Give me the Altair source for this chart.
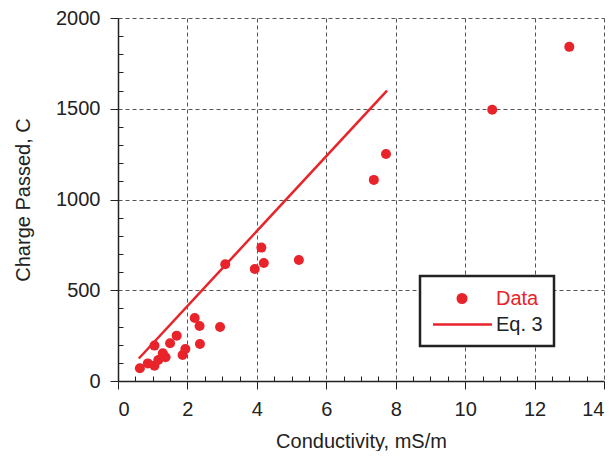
import altair as alt
import pandas as pd

# Measured data (Conductivity mS/m, Charge passed C)
cond = [0.63, 0.86, 1.05, 1.05, 1.16, 1.29, 1.37, 1.50, 1.69, 1.86, 1.94, 2.21,
        2.35, 2.36, 2.94, 3.09, 3.94, 4.13, 4.20, 5.21, 7.37, 7.72, 10.78, 13.0]
charge = [70, 97, 84, 195, 116, 153, 131, 208, 250, 143, 176, 347,
          303, 204, 298, 643, 617, 735, 650, 667, 1108, 1251, 1494, 1841]

# Eq. 3 line
eq_x = [0.6, 7.75]
eq_y = [124, 1600]

series_names = ["Data", "Eq. 3"]
x_ticks = [i * 0.5 for i in range(0, 29)]
y_ticks = [i * 100 for i in range(0, 21)]

RED = "#e8232a"
INK = "#222222"
FONT = "Liberation Sans"

pts = pd.DataFrame({"x": cond, "y": charge, "series": series_names[0]})
line = pd.DataFrame({"x": eq_x, "y": eq_y, "series": series_names[1]})

xscale = alt.Scale(domain=[0, 14], nice=False, zero=False)
yscale = alt.Scale(domain=[0, 2000], nice=False, zero=False)


def make_axes():
    xaxis = alt.Axis(
        title="Conductivity, mS/m", values=x_ticks, labelOverlap=False,
        labelExpr="datum.value % 2 == 0 ? format(datum.value, 'd') : ''",
        tickSize={"expr": "datum.value % 2 == 0 ? 8 : -5"},
        gridOpacity={"expr": "datum.value % 2 == 0 && datum.value > 0 ? 1 : 0"},
        labelPadding=10, titlePadding=12,
    )
    yaxis = alt.Axis(
        title="Charge Passed, C", values=y_ticks, labelOverlap=False,
        labelExpr="datum.value % 500 == 0 ? datum.label : ''",
        tickSize={"expr": "datum.value % 500 == 0 ? 8 : -5"},
        gridOpacity={"expr": "datum.value % 500 == 0 && datum.value > 0 ? 1 : 0"},
        labelPadding=10, titlePadding=22, format="d",
    )
    return xaxis, yaxis


# custom legend symbols (unit = 10 px for symbolSize 400)
CIRCLE_PATH = "M 1.525,0 A 0.425,0.425 0 1,0 2.375,0 A 0.425,0.425 0 1,0 1.525,0 Z"
STROKE_PATH = "M -0.95,0 L 4.95,0"

color = alt.Color(
    "series:N",
    scale=alt.Scale(domain=series_names, range=[RED, RED]),
    legend=alt.Legend(
        title=None, orient="none", legendX=302, legendY=258,
        symbolType={"expr": "datum.label == 'Data' ? '" + CIRCLE_PATH + "' : '" + STROKE_PATH + "'"},
        symbolSize=400,
        symbolStrokeWidth=2.5,
        symbolStrokeColor=RED, symbolFillColor=RED, symbolOpacity=1,
        labelColor={"expr": "datum.label == 'Data' ? '" + RED + "' : '" + INK + "'"},
        labelFont=FONT, labelFontSize=20, labelOffset=42,
        padding=11, rowPadding=4,
        strokeColor=INK, fillColor="white",
    ),
)

xa1, ya1 = make_axes()
xa2, ya2 = make_axes()

points = alt.Chart(pts).mark_point(filled=True, size=100, opacity=1).encode(
    x=alt.X("x:Q", scale=xscale, axis=xa1),
    y=alt.Y("y:Q", scale=yscale, axis=ya1),
    color=color,
)
eq = alt.Chart(line).mark_line(strokeWidth=2.5).encode(
    x=alt.X("x:Q", scale=xscale, axis=xa2),
    y=alt.Y("y:Q", scale=yscale, axis=ya2),
    color=color,
)

chart = alt.layer(eq, points).properties(
    width=486, height=363,
    autosize=alt.AutoSizeParams(type="none"),
    padding={"left": 110, "top": 10, "right": 4, "bottom": 70},
).configure_view(stroke=None).configure_axis(
    labelFont=FONT, titleFont=FONT, labelFontSize=20, titleFontSize=20,
    titleFontWeight="normal", labelColor=INK, titleColor=INK,
    domainColor=INK, domainWidth=1.5, tickColor=INK, tickWidth=1,
    gridColor="#555555", gridDash=[4, 3], gridWidth=1,
).configure_legend(strokeWidth=2.5)

chart.save("out.html", embed_options={"renderer": "svg", "actions": False})
